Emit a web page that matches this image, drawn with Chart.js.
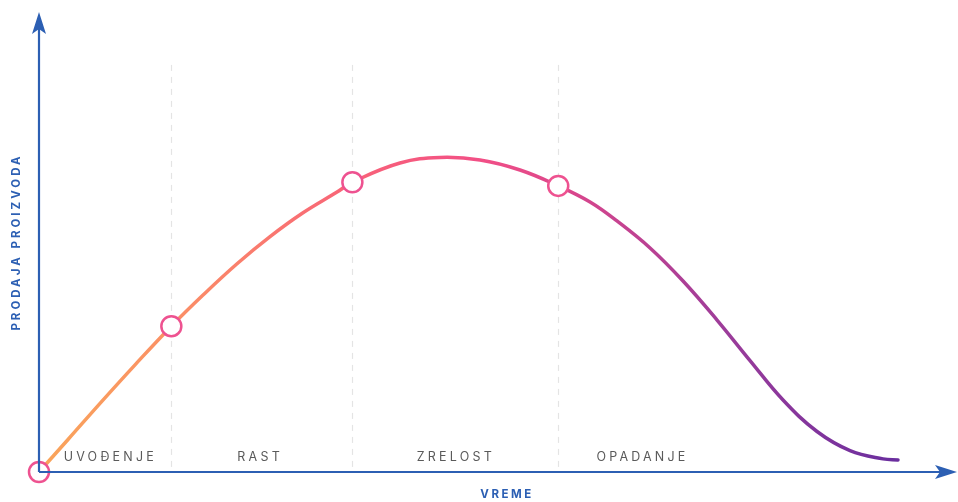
<!DOCTYPE html>
<html>
<head>
<meta charset="utf-8">
<script src="https://cdn.jsdelivr.net/npm/chart.js@4/dist/chart.umd.min.js"></script>
<style>
  html, body { margin: 0; padding: 0; background: #fff; }
  #wrap { width: 958px; height: 502px; position: relative; }
</style>
</head>
<body>
<div id="wrap"><canvas id="lifecycle"></canvas></div>
<script>
// Product life cycle curve (abstract units, 0-100 on both axes)
const curveX = [0, 3.16, 6.86, 10.45, 14.4, 17.85, 21.55, 25.14, 28.73, 32.43, 34.1, 39.28, 43.63, 47.99, 52.34, 56.5, 59.96, 62.89, 66.49, 70.08, 73.78, 77.37, 80.96, 84.66, 88.25, 91.84, 93.47];
const curveY = [0, 7.07, 15.41, 23.30, 31.7, 38.48, 45.28, 51.17, 56.35, 60.85, 63.0, 67.17, 68.37, 67.83, 65.65, 62.2, 58.70, 54.57, 48.70, 41.52, 33.04, 24.22, 15.65, 8.80, 4.65, 2.85, 2.61];

// Circle markers at the start of each phase
const markerX = [0, 14.4, 34.1, 56.5];
const markerY = [0, 31.7, 63.0, 62.2];

// Phase boundaries and labels
const phaseBounds = [14.4, 34.1, 56.5];
const phaseTop = 88.5;
const phaseLabels = ['UVOĐENJE', 'RAST', 'ZRELOST', 'OPADANJE'];
const phaseLabelX = [7.6, 23.9, 45.2, 65.5];

const xTitle = 'VREME';
const yTitle = 'PRODAJA PROIZVODA';

const axisBlue = '#2c5fb3';

// Draws dashed phase lines, the two arrowed axes and all captions
const decorations = {
    id: 'decorations',
    beforeDatasetsDraw(chart) {
        const ctx = chart.ctx;
        const x = chart.scales.x;
        const y = chart.scales.y;
        ctx.save();
        ctx.strokeStyle = '#e4e4e4';
        ctx.lineWidth = 1.2;
        ctx.setLineDash([6, 6]);
        phaseBounds.forEach(v => {
            const px = Math.round(x.getPixelForValue(v)) + 0.5;
            ctx.beginPath();
            ctx.moveTo(px, y.getPixelForValue(phaseTop));
            ctx.lineTo(px, y.getPixelForValue(0));
            ctx.stroke();
        });
        ctx.setLineDash([]);

        // phase captions
        ctx.fillStyle = '#5a5a5a';
        ctx.font = '400 12.5px Inter, "Open Sans", sans-serif';
        ctx.textAlign = 'center';
        ctx.textBaseline = 'middle';
        if ('letterSpacing' in ctx) ctx.letterSpacing = '3.2px';
        phaseLabels.forEach((t, i) => {
            ctx.fillText(t, x.getPixelForValue(phaseLabelX[i]) + 1.5, 457);
        });
        ctx.restore();
    },
    afterDatasetsDraw(chart) {
        const ctx = chart.ctx;
        const x = chart.scales.x;
        const y = chart.scales.y;
        const ox = x.getPixelForValue(0);
        const oy = y.getPixelForValue(0);
        const right = chart.width - 1;
        const top = 12;
        ctx.save();
        ctx.strokeStyle = axisBlue;
        ctx.fillStyle = axisBlue;
        ctx.lineWidth = 2.2;
        ctx.beginPath();
        ctx.moveTo(ox, oy);
        ctx.lineTo(ox, top + 10);
        ctx.moveTo(ox, oy);
        ctx.lineTo(right - 10, oy);
        ctx.stroke();

        // arrow heads
        ctx.beginPath();
        ctx.moveTo(ox, top);
        ctx.lineTo(ox + 7, top + 22);
        ctx.lineTo(ox, top + 17);
        ctx.lineTo(ox - 7, top + 22);
        ctx.closePath();
        ctx.fill();
        ctx.beginPath();
        ctx.moveTo(right, oy);
        ctx.lineTo(right - 22, oy - 7);
        ctx.lineTo(right - 17, oy);
        ctx.lineTo(right - 22, oy + 7);
        ctx.closePath();
        ctx.fill();

        // axis titles
        ctx.font = '700 11.5px Inter, "Open Sans", sans-serif';
        ctx.textAlign = 'center';
        ctx.textBaseline = 'middle';
        if ('letterSpacing' in ctx) ctx.letterSpacing = '2.5px';
        ctx.fillText(xTitle, 507, 495);
        if ('letterSpacing' in ctx) ctx.letterSpacing = '3px';
        ctx.translate(17, 242);
        ctx.rotate(-Math.PI / 2);
        ctx.fillText(yTitle, 0, 0);
        ctx.restore();
    }
};

function curveGradient(context) {
    const area = context.chart.chartArea;
    if (!area) return '#f0578a';
    const g = context.chart.ctx.createLinearGradient(area.left, 0, area.right, 0);
    g.addColorStop(0, '#f9a55a');
    g.addColorStop(0.15, '#fb8f66');
    g.addColorStop(0.34, '#f86378');
    g.addColorStop(0.48, '#f24f86');
    g.addColorStop(0.58, '#d9468c');
    g.addColorStop(0.75, '#9b3c9a');
    g.addColorStop(0.93, '#6a2e9e');
    return g;
}

new Chart(document.getElementById('lifecycle'), {
    type: 'line',
    data: {
        datasets: [
            {
                label: 'markers',
                data: markerX.map((v, i) => ({ x: v, y: markerY[i] })),
                showLine: false,
                pointRadius: 10,
                pointBackgroundColor: '#ffffff',
                pointBorderColor: '#ee5290',
                pointBorderWidth: 2.5,
                clip: false
            },
            {
                label: 'curve',
                data: curveX.map((v, i) => ({ x: v, y: curveY[i] })),
                borderColor: curveGradient,
                borderWidth: 3.5,
                borderCapStyle: 'round',
                pointRadius: 0,
                tension: 0.4,
                fill: false,
                clip: false
            }
        ]
    },
    options: {
        responsive: true,
        maintainAspectRatio: false,
        animation: false,
        layout: { autoPadding: false, padding: { left: 39, right: 0, top: 12, bottom: 30 } },
        plugins: { legend: { display: false }, tooltip: { enabled: false } },
        scales: {
            x: { type: 'linear', min: 0, max: 100, display: false },
            y: { min: 0, max: 100, display: false }
        }
    },
    plugins: [decorations]
});
</script>
</body>
</html>
